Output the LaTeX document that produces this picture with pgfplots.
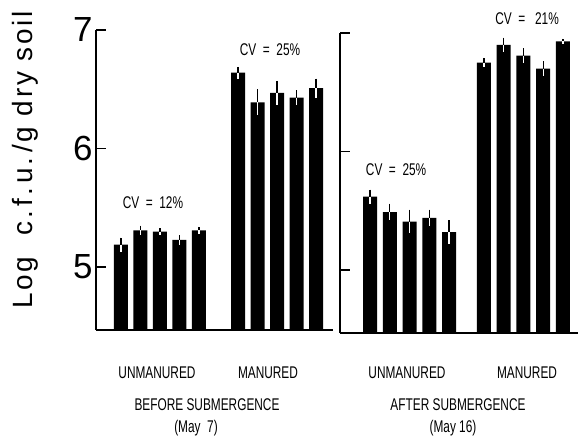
\documentclass[border=0pt]{standalone}
\usepackage{fontspec}
\setmainfont{Liberation Sans}
\newfontfamily\condfont[FakeStretch=0.7]{Liberation Sans}
\newfontfamily\labfont[LetterSpace=10]{Liberation Sans}
\usepackage{pgfplots}
\pgfplotsset{compat=1.18}
\usepackage{pgfplotstable}

\pgfplotstableread{
x y e
1 5.19 0.06
2 5.31 0.04
3 5.30 0.03
4 5.23 0.04
5 5.31 0.03
7 6.64 0.05
8 6.39 0.11
9 6.47 0.10
10 6.43 0.06
11 6.51 0.08
}\beforetable

\pgfplotstableread{
x y e
1 5.62 0.06
2 5.49 0.07
3 5.41 0.10
4 5.44 0.07
5 5.32 0.10
6.77 6.75 0.04
7.77 6.90 0.06
8.77 6.81 0.06
9.77 6.70 0.06
10.77 6.93 0.02
}\aftertable

\pgfplotsset{
  panel/.style={
    scale only axis, height=300bp,
    ymin=4.47, ymax=7,
    axis x line=bottom, axis y line=left,
    axis line style={-, line width=1.6bp, black},
    xtick=\empty, ytick={5,6,7},
    tick align=inside, major tick length=10bp,
    major tick style={line width=1.6bp, black},
    clip mode=individual,
    /pgf/number format/assume math mode=true,
  },
  barsup/.style={ybar, bar width=14bp, bar shift=0pt, fill=black, draw=none,
    error bars/.cd, y dir=plus, y explicit, error mark=none,
    error bar style={line width=1.3bp, draw=black}},
  barsdown/.style={ybar, bar width=14bp, bar shift=0pt, fill=none, draw=none, forget plot,
    error bars/.cd, y dir=minus, y explicit, error mark=none,
    error bar style={line width=1.3bp, draw=white}},
}
\tikzset{bl/.style={font=\condfont\fontsize{17}{18}\selectfont},
  cv/.style={font=\condfont\fontsize{17}{18}\selectfont}}

\begin{document}
\begin{tikzpicture}
\useasboundingbox (0,0) rectangle (586bp,437bp);
\begin{axis}[panel, at={(96bp,107bp)}, anchor=south west, width=237bp,
  xmin=-0.28, xmax=11.87,
  yticklabel style={font=\fontsize{35}{40}\selectfont}]
\addplot[barsup] table[x=x, y=y, y error=e] {\beforetable};
\addplot[barsdown] table[x=x, y=y, y error=e] {\beforetable};
\node[cv] at (axis cs:2.64,5.54) {CV\ \ =\ \ 12\%};
\node[cv] at (axis cs:8.64,6.83) {CV\ \ =\ \ 25\%};
\end{axis}
\begin{axis}[panel, at={(340bp,104bp)}, anchor=south west, width=238bp,
  xmin=-0.52, xmax=11.53, yticklabels={,,}]
\addplot[barsup] table[x=x, y=y, y error=e] {\aftertable};
\addplot[barsdown] table[x=x, y=y, y error=e] {\aftertable};
\node[cv] at (axis cs:2.32,5.85) {CV\ \ =\ \ 25\%};
\node[cv] at (axis cs:8.95,7.12) {CV\ \ =\ \ \ 21\%};
\end{axis}
\node[rotate=90, font=\labfont\fontsize{28}{30}\selectfont] at (25bp,277bp) {Log\ \ c.\,f.\,u.\,/g dry soil};
\node[bl] at (157bp,64bp) {UNMANURED};
\node[bl] at (268bp,64bp) {MANURED};
\node[bl] at (207bp,32bp) {BEFORE SUBMERGENCE};
\node[bl] at (196bp,9bp) {(May\ \ 7)};
\node[bl] at (407bp,64bp) {UNMANURED};
\node[bl] at (527bp,64bp) {MANURED};
\node[bl] at (458bp,32bp) {AFTER SUBMERGENCE};
\node[bl] at (453bp,9bp) {(May 16)};
\end{tikzpicture}
\end{document}
